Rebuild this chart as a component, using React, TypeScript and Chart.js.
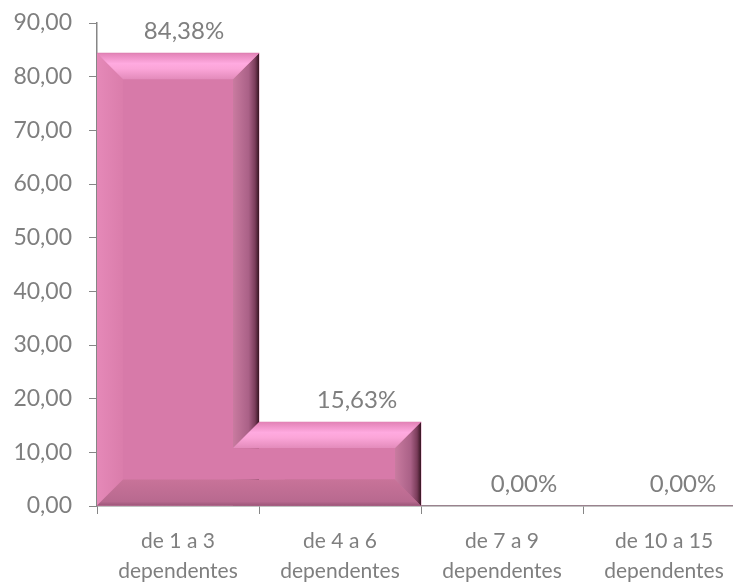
import React, { useEffect, useRef } from 'react';
import { Chart, registerables } from 'chart.js';

Chart.register(...registerables);

// ---- data ----
const categories: string[][] = [
  ['de 1 a 3', 'dependentes'],
  ['de 4 a 6', 'dependentes'],
  ['de 7 a 9', 'dependentes'],
  ['de 10 a 15', 'dependentes'],
];
const values: number[] = [84.38, 15.63, 0.0, 0.0];
const yMin = 0;
const yMax = 90;
const yStep = 10;

// ---- styles ----
const FONT = 'Lato, "Open Sans", sans-serif';
const TEXT = '#7f7f7f';
const AXIS = '#868686';
const FACE = '#d77aa9';
const labelDx = [6, 17, 22, 19];

const fmt = (v: number) => v.toFixed(2).replace('.', ',');

function poly(ctx: CanvasRenderingContext2D, pts: number[][], fill: any) {
  ctx.fillStyle = fill;
  ctx.beginPath();
  ctx.moveTo(pts[0][0], pts[0][1]);
  for (let k = 1; k < pts.length; k++) ctx.lineTo(pts[k][0], pts[k][1]);
  ctx.closePath();
  ctx.fill();
}

function topGrad(ctx: CanvasRenderingContext2D, t: number, b: number) {
  const g = ctx.createLinearGradient(0, t, 0, t + b);
  g.addColorStop(0, '#e282b6');
  g.addColorStop(0.4, '#ffaae0');
  g.addColorStop(0.6, '#fba5d8');
  g.addColorStop(1, '#e38bbb');
  return g;
}
function bottomGrad(ctx: CanvasRenderingContext2D, bt: number, b: number) {
  const g = ctx.createLinearGradient(0, bt - b, 0, bt);
  g.addColorStop(0, '#c87399');
  g.addColorStop(0.85, '#b8698f');
  g.addColorStop(1, '#9c5679');
  return g;
}
function rightGrad(ctx: CanvasRenderingContext2D, r: number, b: number) {
  const g = ctx.createLinearGradient(r - b, 0, r, 0);
  g.addColorStop(0, '#c97ba0');
  g.addColorStop(0.6, '#aa6187');
  g.addColorStop(0.85, '#7a3c5a');
  g.addColorStop(1, '#361522');
  return g;
}

const bevelPlugin = {
  id: 'bevel',
  afterDatasetsDraw(chart: any) {
    const ctx = chart.ctx as CanvasRenderingContext2D;
    const meta = chart.getDatasetMeta(0);
    const rects = meta.data.map((bar: any) => {
      const p = bar.getProps(['x', 'y', 'base', 'width'], true);
      const t = Math.min(p.y, p.base);
      const bt = Math.max(p.y, p.base);
      return { l: p.x - p.width / 2, r: p.x + p.width / 2, t, bt, h: bt - t, w: p.width };
    });
    ctx.save();
    rects.forEach((q: any) => {
      const { l, r, t, bt, h } = q;
      if (h < 1) return;
      const b = Math.min(26, h / 2, q.w / 2);
      const g = ctx.createLinearGradient(l, 0, l + b, 0);
      g.addColorStop(0, '#e589b8');
      g.addColorStop(1, '#da7dab');
      poly(ctx, [[l, t], [l + b, t + b], [l + b, bt - b], [l, bt]], g);
      poly(ctx, [[l, bt], [r, bt], [r - b, bt - b], [l + b, bt - b]], bottomGrad(ctx, bt, b));
      poly(ctx, [[r, t], [r, bt], [r - b, bt - b], [r - b, t + b]], rightGrad(ctx, r, b));
      poly(ctx, [[l, t], [r, t], [r - b, t + b], [l + b, t + b]], topGrad(ctx, t, b));
    });
    // merge outline where a bar stands next to a taller bar on its left (L shape)
    for (let i = 1; i < rects.length; i++) {
      const a = rects[i - 1];
      const q = rects[i];
      if (q.h < 1 || a.t >= q.t) continue;
      const b = Math.min(26, q.h / 2, q.w / 2);
      const ba = Math.min(26, a.h / 2, a.w / 2);
      const x0 = q.l - ba;
      ctx.fillStyle = FACE;
      ctx.fillRect(x0, q.t + b, q.l + b - x0, q.bt - b - (q.t + b));
      poly(ctx, [[x0, q.bt], [q.r, q.bt], [q.r - b, q.bt - b], [x0, q.bt - b]], bottomGrad(ctx, q.bt, b));
      poly(ctx, [[q.r, q.t], [q.r, q.bt], [q.r - b, q.bt - b], [q.r - b, q.t + b]], rightGrad(ctx, q.r, b));
      poly(ctx, [[q.l, q.t], [q.r, q.t], [q.r - b, q.t + b], [q.l - b, q.t + b]], topGrad(ctx, q.t, b));
    }
    ctx.restore();
  },
};

const labelPlugin = {
  id: 'valueLabels',
  afterDatasetsDraw(chart: any) {
    const ctx = chart.ctx as CanvasRenderingContext2D;
    const meta = chart.getDatasetMeta(0);
    ctx.save();
    ctx.font = `24px ${FONT}`;
    ctx.fillStyle = TEXT;
    ctx.textAlign = 'center';
    ctx.textBaseline = 'middle';
    meta.data.forEach((bar: any, i: number) => {
      const p = bar.getProps(['x', 'y'], true);
      ctx.fillText(fmt(values[i]) + '%', p.x + labelDx[i], p.y - 22);
    });
    ctx.restore();
  },
};

export default function App() {
  const ref = useRef<HTMLCanvasElement | null>(null);
  useEffect(() => {
    if (!ref.current) return;
    const chart = new Chart(ref.current, {
      type: 'bar',
      data: {
        labels: categories,
        datasets: [
          {
            data: values,
            backgroundColor: FACE,
            borderWidth: 0,
            categoryPercentage: 1,
            barPercentage: 1,
          },
        ],
      },
      options: {
        responsive: false,
        animation: false,
        devicePixelRatio: 1,
        layout: { padding: { top: 23, right: 0, bottom: 0, left: 0 } },
        plugins: { legend: { display: false }, tooltip: { enabled: false } },
        scales: {
          x: {
            grid: { display: true, drawOnChartArea: false, drawTicks: true, tickLength: 8, color: AXIS, offset: true },
            border: { display: true, color: AXIS, width: 1.5 },
            ticks: { color: TEXT, font: { family: FONT, size: 21, lineHeight: 1.43 }, padding: 12, maxRotation: 0, autoSkip: false },
            afterFit: (s: any) => { s.height = 77; s.paddingLeft = 0; s.paddingRight = 0; },
          },
          y: {
            min: yMin,
            max: yMax,
            grid: { display: true, drawOnChartArea: false, drawTicks: true, tickLength: 8, color: AXIS },
            border: { display: true, color: AXIS, width: 1.5 },
            ticks: { stepSize: yStep, color: TEXT, font: { family: FONT, size: 23 }, padding: 17, callback: (v: any) => fmt(Number(v)) },
            afterFit: (s: any) => { s.width = 97; s.paddingTop = 0; s.paddingBottom = 0; },
          },
        },
      },
      plugins: [bevelPlugin, labelPlugin],
    });
    return () => chart.destroy();
  }, []);
  return (
    <div style={{ position: 'fixed', left: 0, top: 0, width: 733, height: 583, overflow: 'hidden', background: '#fff' }}>
      <canvas ref={ref} width={745} height={583} style={{ position: 'absolute', left: 0, top: 0 }} />
    </div>
  );
}
